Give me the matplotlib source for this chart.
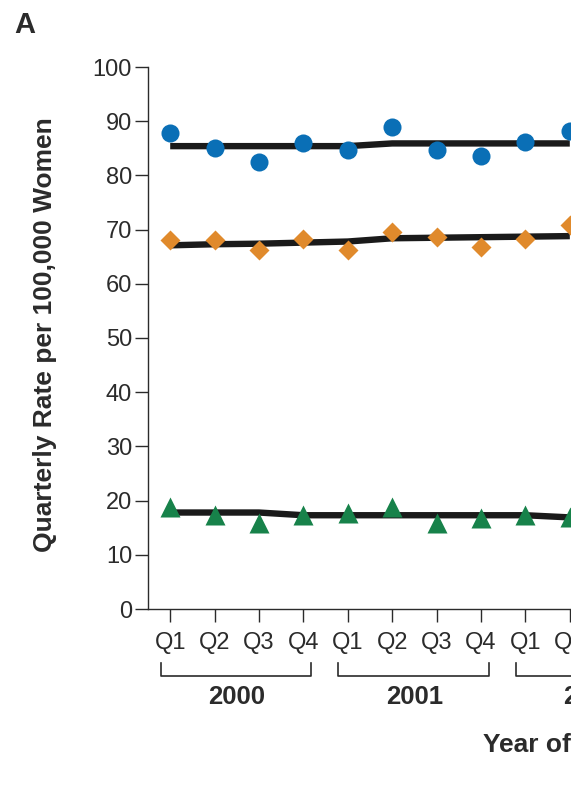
import matplotlib
matplotlib.use("Agg")
import matplotlib.pyplot as plt
from matplotlib.transforms import blended_transform_factory

plt.rcParams["font.family"] = ["Liberation Sans", "DejaVu Sans"]

# quarters visible in the crop (Q1 2000 .. Q2 2002)
quarters = ["Q1", "Q2", "Q3", "Q4", "Q1", "Q2", "Q3", "Q4", "Q1", "Q2"]
years = ["2000", "2001", "2002"]
yticks = [0, 10, 20, 30, 40, 50, 60, 70, 80, 90, 100]

blue_pts = [87.8, 85.1, 82.5, 85.9, 84.7, 88.9, 84.7, 83.6, 86.2, 88.1]
blue_fit = [85.4, 85.4, 85.4, 85.4, 85.4, 85.9, 85.9, 85.9, 85.9, 85.9]
orange_pts = [68.1, 68.0, 66.2, 68.2, 66.2, 69.6, 68.7, 66.8, 68.2, 70.8]
orange_fit = [67.1, 67.3, 67.4, 67.6, 67.8, 68.4, 68.5, 68.6, 68.7, 68.8]
green_pts = [18.9, 17.4, 15.9, 17.3, 17.7, 18.9, 15.9, 16.7, 17.3, 16.9]
green_fit = [17.8, 17.8, 17.8, 17.3, 17.3, 17.3, 17.3, 17.3, 17.3, 16.9]

BLUE, ORANGE, GREEN = "#0a6fb6", "#e08a2c", "#17824a"
INK = "#2b2b2b"

W, H = 571, 796
fig = plt.figure(figsize=(W / 100, H / 100), dpi=100)
# axes run past the right edge: the reference is a crop of a wider panel
px = 44.4  # pixels per quarter
x0, x1 = -0.5, 11.5
ax = fig.add_axes([148 / W, (H - 609) / H, (x1 - x0) * px / W, (609 - 67) / H])

xs = list(range(len(quarters)))
for pts, fit, col, mk, ms in [(blue_pts, blue_fit, BLUE, "o", 13),
                              (orange_pts, orange_fit, ORANGE, "D", 10),
                              (green_pts, green_fit, GREEN, "^", 14)]:
    ax.plot(xs, fit, color="#1a1a1a", lw=4.6, solid_capstyle="butt", zorder=2)
    ax.plot(xs, pts, ls="none", marker=mk, ms=ms, color=col, mec="none", zorder=3)

ax.set_xlim(x0, x1)
ax.set_ylim(0, 100)
ax.set_yticks(yticks)
ax.set_xticks(xs)
ax.set_xticklabels(quarters)
for s in ("top", "right"):
    ax.spines[s].set_visible(False)
for s in ("left", "bottom"):
    ax.spines[s].set_color(INK)
    ax.spines[s].set_linewidth(1.0)
ax.tick_params(axis="both", direction="out", length=9.5, width=1.0, color=INK,
               labelcolor=INK, labelsize=17)
ax.tick_params(axis="x", pad=7)
ax.tick_params(axis="y", pad=2)

# year brackets under the quarter labels
tr = blended_transform_factory(ax.transData, fig.transFigure)
yb_top, yb_bot = (H - 663) / H, (H - 676) / H
for k, yr in enumerate(years):
    a, b = 4 * k - 0.21, 4 * k + 3.18
    ax.plot([a, a, b, b], [yb_top, yb_bot, yb_bot, yb_top], transform=tr,
            color=INK, lw=1.2, clip_on=False)
    ax.text(4 * k + 1.5, (H - 697) / H, yr, transform=tr, ha="center", va="center",
            fontsize=18.5, fontweight="bold", color=INK)

fig.text(45 / W, (H - 335) / H, "Quarterly Rate per 100,000 Women", rotation=90,
         ha="center", va="center", fontsize=19, fontweight="bold", color=INK)
fig.text(483 / W, (H - 745) / H, "Year of", ha="left", va="center",
         fontsize=19, fontweight="bold", color=INK)
fig.text(14 / W, (H - 25) / H, "A", ha="left", va="center",
         fontsize=21, fontweight="bold", color=INK)

fig.savefig("out.png", dpi=100)
